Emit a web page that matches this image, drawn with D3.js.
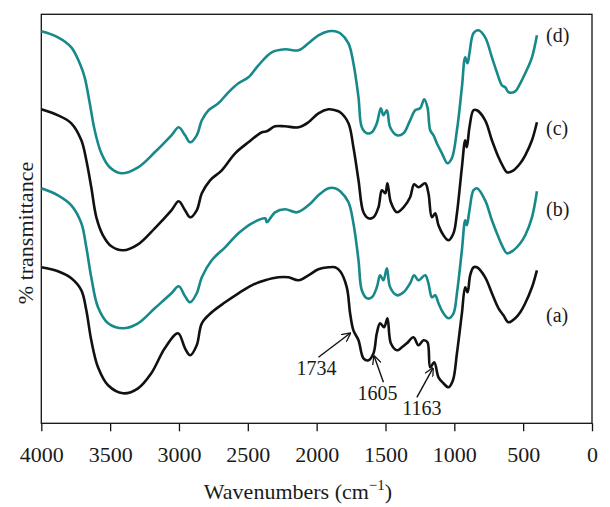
<!DOCTYPE html>
<html>
<head>
<meta charset="utf-8">
<script src="https://cdn.jsdelivr.net/npm/d3@7"></script>
<style>
  body { margin: 0; background: #fff; }
  text { font-family: "Liberation Serif", "DejaVu Serif", serif; fill: #1a1a1a; }
</style>
</head>
<body>
<svg id="chart" width="610" height="507"></svg>
<script>
'use strict';

// spectra: [wavenumber (cm-1), transmittance (a.u., stacked)]
const spectrumA = [
  [4000, 156], [3879, 152], [3782, 145], [3709, 133], [3673, 113], [3637, 83], [3588, 56],
  [3515, 38], [3406, 30], [3297, 35], [3201, 50], [3103, 75], [3007, 90], [2956, 75],
  [2919, 68], [2871, 78], [2834, 100], [2762, 111], [2665, 121], [2568, 130], [2471, 138],
  [2374, 143], [2278, 146], [2205, 146], [2132, 143], [2060, 148], [1987, 154], [1914, 156],
  [1866, 156], [1829, 152], [1781, 136], [1757, 110], [1733, 93], [1696, 83], [1660, 65],
  [1624, 63], [1587, 70], [1563, 90], [1539, 100], [1510, 96], [1486, 105], [1461, 80],
  [1417, 73], [1381, 76], [1345, 80], [1297, 86], [1260, 78], [1224, 83], [1195, 81],
  [1175, 56], [1146, 61], [1115, 46], [1079, 40], [1042, 36], [1010, 43], [981, 70],
  [945, 110], [921, 136], [904, 131], [885, 148], [861, 156], [836, 156], [776, 146],
  [727, 130], [679, 115], [643, 108], [606, 101], [558, 105], [521, 111], [485, 120],
  [436, 136], [400, 153]
];

const spectrumB = [
  [4000, 235], [3879, 228], [3782, 218], [3709, 200], [3673, 176], [3637, 146], [3588, 116],
  [3515, 100], [3406, 95], [3297, 100], [3176, 115], [3055, 130], [3002, 137], [2956, 127],
  [2919, 121], [2871, 130], [2834, 146], [2762, 163], [2665, 176], [2568, 190], [2471, 200],
  [2374, 205], [2362, 201], [2302, 211], [2229, 214], [2144, 211], [2060, 218], [1987, 228],
  [1914, 235], [1866, 235], [1829, 232], [1769, 221], [1733, 200], [1696, 163], [1672, 133],
  [1635, 125], [1599, 126], [1563, 136], [1539, 148], [1515, 143], [1490, 155], [1466, 136],
  [1417, 128], [1369, 131], [1321, 140], [1292, 148], [1260, 143], [1212, 148], [1188, 140],
  [1163, 126], [1139, 128], [1115, 120], [1079, 110], [1042, 105], [1006, 110], [981, 130],
  [945, 173], [921, 203], [909, 198], [890, 213], [861, 233], [836, 235], [776, 223],
  [727, 203], [679, 186], [643, 175], [618, 170], [570, 173], [521, 180], [485, 188],
  [436, 206], [400, 232]
];

const spectrumC = [
  [4000, 314], [3879, 308], [3782, 300], [3709, 283], [3673, 263], [3637, 236], [3600, 206],
  [3552, 188], [3491, 177], [3406, 173], [3297, 179], [3176, 195], [3055, 213], [3002, 222],
  [2956, 213], [2919, 206], [2871, 213], [2834, 230], [2774, 243], [2689, 253], [2592, 270],
  [2496, 281], [2398, 291], [2362, 292], [2302, 297], [2229, 297], [2132, 296], [2060, 301],
  [1987, 310], [1914, 314], [1866, 313], [1829, 311], [1769, 300], [1733, 276], [1696, 243],
  [1660, 211], [1624, 205], [1587, 206], [1551, 216], [1526, 233], [1502, 230], [1486, 240],
  [1461, 221], [1417, 211], [1369, 216], [1321, 226], [1292, 239], [1260, 236], [1212, 240],
  [1188, 230], [1163, 206], [1139, 210], [1115, 198], [1079, 188], [1042, 183], [1006, 190],
  [981, 210], [945, 256], [921, 283], [909, 276], [890, 296], [861, 313], [836, 313],
  [776, 303], [727, 283], [679, 266], [643, 256], [618, 251], [570, 253], [521, 260],
  [485, 268], [436, 283], [400, 301]
];

const spectrumD = [
  [4000, 392], [3879, 386], [3782, 376], [3721, 360], [3685, 346], [3648, 320], [3612, 293],
  [3564, 270], [3503, 256], [3419, 250], [3297, 256], [3176, 271], [3055, 288], [3002, 296],
  [2956, 288], [2919, 281], [2871, 288], [2834, 303], [2786, 313], [2714, 320], [2641, 331],
  [2568, 340], [2496, 346], [2423, 358], [2326, 371], [2229, 374], [2132, 373], [2060, 380],
  [1987, 388], [1914, 392], [1866, 392], [1829, 390], [1769, 380], [1733, 360], [1696, 326],
  [1672, 296], [1635, 290], [1599, 291], [1563, 300], [1534, 315], [1515, 308], [1490, 313],
  [1466, 296], [1417, 288], [1369, 290], [1321, 303], [1284, 313], [1248, 315], [1219, 324],
  [1195, 316], [1175, 293], [1151, 288], [1127, 280], [1090, 270], [1050, 260], [1018, 265],
  [981, 293], [945, 336], [921, 366], [904, 360], [890, 370], [861, 390], [824, 393],
  [776, 386], [727, 366], [691, 351], [654, 338], [630, 336], [606, 331], [558, 332],
  [521, 340], [485, 350], [436, 366], [400, 388]
];

const seriesNames = ['(a)', '(b)', '(c)', '(d)'];
const seriesData = [spectrumA, spectrumB, spectrumC, spectrumD];
const seriesColors = ['#111111', '#17898a', '#111111', '#17898a'];
// level (a.u.) where each series label sits at the right end
const labelLevels = [101, 207, 288, 381];

const xTicks = [4000, 3500, 3000, 2500, 2000, 1500, 1000, 500, 0];

// band annotations on spectrum (a): label, arrow tip, arrow tail
const bandLabels = ['1734', '1605', '1163'];
const bandTips = [[1757, 90], [1582, 67], [1156, 55]];
const bandTails = [[1987, 66], [1515, 41], [1272, 26]];

const width = 610, height = 507;
const plot = { left: 41.3, right: 592, top: 14.3, bottom: 423.3 };

const svg = d3.select('#chart');

const x = d3.scaleLinear()
  .domain([4000, 0])
  .range([plot.left, plot.right]);

const y = d3.scaleLinear()
  .domain([0, 409])
  .range([plot.bottom, plot.top]);

// arrow heads
svg.append('defs')
  .append('marker')
  .attr('id', 'arrow')
  .attr('viewBox', '0 0 10 10')
  .attr('refX', 9)
  .attr('refY', 5)
  .attr('markerWidth', 9)
  .attr('markerHeight', 9)
  .attr('markerUnits', 'userSpaceOnUse')
  .attr('orient', 'auto')
  .append('path')
  .attr('d', 'M0,0 L10,5 L0,10')
  .attr('fill', 'none')
  .attr('stroke', '#111')
  .attr('stroke-width', 1.4);

// x axis
const xAxis = d3.axisBottom(x)
  .tickValues(xTicks)
  .tickFormat(d3.format('d'))
  .tickSize(8)
  .tickSizeOuter(0)
  .tickPadding(15);

const gx = svg.append('g')
  .attr('transform', 'translate(0,' + plot.bottom + ')')
  .call(xAxis);
gx.select('.domain').remove();
gx.selectAll('.tick line').attr('stroke', '#111').attr('stroke-width', 1.3);
gx.selectAll('.tick text')
  .attr('font-family', '"Liberation Serif", serif')
  .attr('font-size', 22)
  .attr('fill', '#1a1a1a');

// frame
svg.append('rect')
  .attr('x', plot.left)
  .attr('y', plot.top)
  .attr('width', plot.right - plot.left)
  .attr('height', plot.bottom - plot.top)
  .attr('fill', 'none')
  .attr('stroke', '#111')
  .attr('stroke-width', 1.3);

// spectra
const line = d3.line()
  .x(d => x(d[0]))
  .y(d => y(d[1]))
  .curve(d3.curveCatmullRom.alpha(0.5));

svg.append('g')
  .selectAll('path')
  .data(seriesData)
  .join('path')
  .attr('d', line)
  .attr('fill', 'none')
  .attr('stroke', (d, i) => seriesColors[i])
  .attr('stroke-width', 2.6)
  .attr('stroke-linejoin', 'round');

// series labels
svg.append('g')
  .selectAll('text')
  .data(seriesNames)
  .join('text')
  .attr('x', x(0) - 46)
  .attr('y', (d, i) => y(labelLevels[i]))
  .attr('font-size', 20)
  .text(d => d);

// band annotations
const bands = svg.append('g');
bandLabels.forEach((lab, i) => {
  const tail = bandTails[i], tip = bandTips[i];
  bands.append('line')
    .attr('x1', x(tail[0]))
    .attr('y1', y(tail[1]))
    .attr('x2', x(tip[0]))
    .attr('y2', y(tip[1]))
    .attr('stroke', '#111')
    .attr('stroke-width', 1.4)
    .attr('marker-end', 'url(#arrow)');
  bands.append('text')
    .attr('x', x(tail[0]) + [-2, -6, 5][i])
    .attr('y', y(tail[1]) + 18)
    .attr('text-anchor', 'middle')
    .attr('font-size', 20)
    .text(lab);
});

// axis titles
const xTitle = svg.append('text')
  .attr('x', 298)
  .attr('y', 499)
  .attr('text-anchor', 'middle')
  .attr('font-size', 22);
xTitle.append('tspan').text('Wavenumbers (cm');
xTitle.append('tspan').attr('dy', -9).attr('font-size', 15).text('\u22121');
xTitle.append('tspan').attr('dy', 9).text(')');

svg.append('text')
  .attr('transform', 'translate(33,233) rotate(-90)')
  .attr('text-anchor', 'middle')
  .attr('font-size', 22)
  .text('% transmittance');
</script>
</body>
</html>
